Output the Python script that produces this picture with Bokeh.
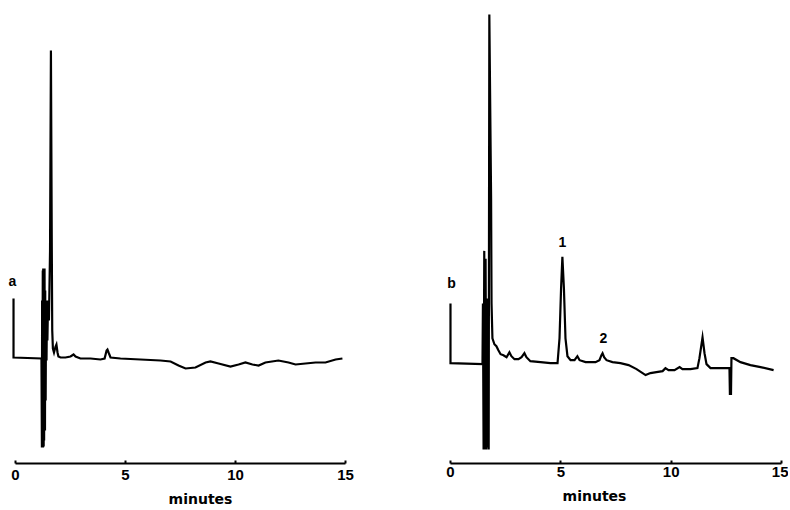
from bokeh.plotting import figure
from bokeh.layouts import row
from bokeh.models import FixedTicker, Range1d
from bokeh.core.properties import value
from bokeh.embed import file_html
from bokeh.resources import INLINE

# ---- Chromatogram a (time in minutes, detector signal in arbitrary units) ----
time_a = [-0.09, -0.09, 1.18, 1.20, 1.21, 1.22, 1.24, 1.25, 1.26, 1.28, 1.29, 1.30,
          1.32, 1.34, 1.35, 1.37, 1.39, 1.41, 1.43, 1.45, 1.48, 1.52, 1.57, 1.61,
          1.65, 1.67, 1.70, 1.75, 1.82, 1.86, 1.91, 1.95, 2.05, 2.27, 2.50, 2.64,
          2.73, 2.95, 3.41, 3.86, 4.05, 4.14, 4.18, 4.23, 4.32, 4.77, 5.68, 6.59,
          7.05, 7.41, 7.73, 8.18, 8.64, 8.86, 9.23, 9.77, 10.14, 10.45, 10.77, 11.05,
          11.36, 11.95, 12.41, 12.73, 13.18, 13.64, 14.09, 14.55, 14.86]
signal_a = [60, 1, 0, -89, 58, -89, 88, -89, 90, -88, 78, -82,
            90, -72, 68, -42, 58, -2, 48, 18, 58, 38, 108, 308,
            108, 28, 10, 6, 12, 14, 6, 2, 1, 1, 2, 4,
            2, 0, 0, -1, 0, 8, 9, 6, 1, 0, -1, -2,
            -3, -7, -10, -9, -4, -3, -5, -8, -6, -4, -6, -7,
            -4, -2, -4, -6, -5, -4, -4, -1, 0]

# ---- Chromatogram b ----
time_b = [0.0, 0.0, 1.45, 1.47, 1.50, 1.53, 1.55, 1.59, 1.62, 1.64, 1.68, 1.70,
          1.73, 1.76, 1.84, 1.86, 1.90, 1.99, 2.08, 2.17, 2.27, 2.40, 2.54, 2.67,
          2.76, 2.90, 3.08, 3.22, 3.35, 3.44, 3.62, 4.08, 4.53, 4.85, 4.94, 5.01,
          5.07, 5.14, 5.21, 5.30, 5.44, 5.62, 5.75, 5.85, 6.12, 6.57, 6.75, 6.84,
          6.89, 6.96, 7.07, 7.34, 7.70, 8.07, 8.43, 8.84, 9.06, 9.33, 9.61, 9.74,
          9.88, 10.15, 10.38, 10.51, 10.87, 11.19, 11.28, 11.42, 11.51, 11.60, 11.78, 12.23,
          12.64, 12.66, 12.71, 12.73, 12.82, 13.14, 13.59, 14.05, 14.64]
signal_b = [60, 0, -1, 60, -87, 113, -87, 105, -87, 65, -85, 45,
            -87, 351, 165, 60, 25, 19, 17, 13, 9, 8, 6, 11,
            7, 4, 4, 6, 10, 6, 2, 1, 0, 0, 25, 75,
            107, 75, 25, 7, 3, 3, 7, 3, 1, 1, 3, 8,
            10, 6, 3, 1, 0, -2, -6, -12, -10, -9, -8, -5,
            -7, -7, -4, -6, -6, -5, 5, 26, 10, -1, -5, -5,
            -5, -31, -31, 5, 5, 1, -2, -4, -7]

# ---- Annotations ----
trace_labels = ["a", "b"]
trace_label_pos = [(-0.14, 78), (0.05, 81)]
peak_labels = ["1", "2"]
peak_label_time = [5.07, 6.93]
peak_label_signal = [122, 25]

x_ticks = [0, 5, 10, 15]
x_label = "minutes"

TXT = "Liberation Sans"


def make_panel(t, s, width, xr, yr, bottom, tick_standoff, label_standoff):
    p = figure(width=width, height=510, output_backend="svg", toolbar_location=None,
               x_range=Range1d(*xr), y_range=Range1d(*yr),
               min_border_left=0, min_border_right=0, min_border_top=0,
               min_border_bottom=bottom)
    p.yaxis.visible = False
    p.grid.visible = False
    p.outline_line_color = None
    p.background_fill_color = "white"
    p.border_fill_color = "white"
    p.line(t, s, line_color="black", line_width=2.2, line_join="miter")
    ax = p.xaxis[0]
    ax.bounds = (0, 15)
    ax.ticker = FixedTicker(ticks=x_ticks)
    ax.axis_line_width = 2
    ax.axis_line_color = "black"
    ax.major_tick_in = 3
    ax.major_tick_out = 0
    ax.major_tick_line_width = 2
    ax.minor_tick_line_color = None
    ax.major_label_text_font = TXT
    ax.major_label_text_font_style = "bold"
    ax.major_label_text_font_size = "15px"
    ax.major_label_text_color = "black"
    ax.major_label_standoff = tick_standoff
    ax.axis_label = x_label
    ax.axis_label_text_font = "DejaVu Sans"
    ax.axis_label_text_font_style = "bold"
    ax.axis_label_text_font_size = "14px"
    ax.axis_label_text_color = "black"
    ax.axis_label_standoff = label_standoff
    return p


p1 = make_panel(time_a, signal_a, 400, (-0.682, 17.5), (-105, 358), 47, 6, 8)
p1.text(x=[trace_label_pos[0][0]], y=[trace_label_pos[0][1]], text=[trace_labels[0]],
        text_font=value(TXT), text_font_style="bold", text_font_size="14px",
        text_align="center", text_baseline="middle", text_color="black")

p2 = make_panel(time_b, signal_b, 388, (-2.265, 15.315), (-101, 365), 44, 3, 8)
p2.text(x=[trace_label_pos[1][0]], y=[trace_label_pos[1][1]], text=[trace_labels[1]],
        text_font=value(TXT), text_font_style="bold", text_font_size="14px",
        text_align="center", text_baseline="middle", text_color="black")
p2.text(x=peak_label_time, y=peak_label_signal, text=peak_labels,
        text_font=value(TXT), text_font_style="bold", text_font_size="14px",
        text_align="center", text_baseline="middle", text_color="black")

layout = row(p1, p2)
open("out.html", "w").write(file_html(layout, INLINE))
